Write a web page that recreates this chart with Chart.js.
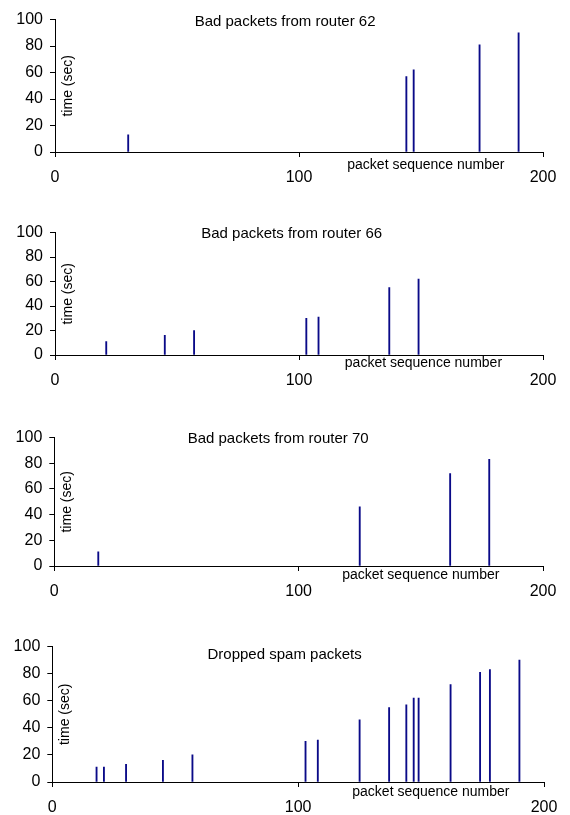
<!DOCTYPE html>
<html>
<head>
<meta charset="utf-8">
<script src="https://cdn.jsdelivr.net/npm/chart.js@4/dist/chart.umd.min.js"></script>
<style>
    html, body { margin: 0; padding: 0; background: #fff; overflow: hidden; }
    body { width: 570px; height: 815px; position: relative; }
    .panel { position: absolute; left: 0; width: 570px; }
</style>
</head>
<body>
<div class="panel" id="p0"><canvas id="c0"></canvas></div>
<div class="panel" id="p1"><canvas id="c1"></canvas></div>
<div class="panel" id="p2"><canvas id="c2"></canvas></div>
<div class="panel" id="p3"><canvas id="c3"></canvas></div>
<script>
// packet sequence numbers and times
const router62Seq = [30, 144, 147, 174, 190];
const router62Time = [13, 57, 62, 81, 90];

const router66Seq = [21, 45, 57, 103, 108, 137, 149];
const router66Time = [11, 16, 20, 30, 31, 55, 62];

const router70Seq = [18, 125, 162, 178];
const router70Time = [11, 46, 72, 83];

const spamSeq = [18, 21, 30, 45, 57, 103, 108, 125, 137, 144, 147, 149, 162, 174, 178, 190];
const spamTime = [11, 11, 13, 16, 20, 30, 31, 46, 55, 57, 62, 62, 72, 81, 83, 90];

const panelTitles = ['Bad packets from router 62', 'Bad packets from router 66',
    'Bad packets from router 70', 'Dropped spam packets'];
const xTicks = [0, 100, 200];
const yTicks = [0, 20, 40, 60, 80, 100];
const xTitle = 'packet sequence number';
const yTitle = 'time (sec)';

// plot boxes in page pixels: left, right, top, bottom
const boxes = [
    { l: 55, r: 543, t: 15, b: 152 },
    { l: 55, r: 543, t: 228.3, b: 355.3 },
    { l: 54.3, r: 543, t: 433.3, b: 566.7 },
    { l: 52.3, r: 544, t: 642.3, b: 782.3 }
];
// where the titles sit (in axis units) and the x title offset below the axis
const titlePos = [{ x: 94.3, y: 98.6 }, { x: 97, y: 99.3 }, { x: 91.6, y: 99 }, { x: 94.5, y: 93.6 }];
const xTitlePos = [{ x: 152, dy: 13 }, { x: 151, dy: 8 }, { x: 150, dy: 9 }, { x: 154, dy: 10.5 }];

const seqs = [router62Seq, router66Seq, router70Seq, spamSeq];
const times = [router62Time, router66Time, router70Time, spamTime];

const FONT = '"Liberation Sans", Arial, sans-serif';
const PAD_TOP = 12;
const X_AXIS_H = 40;

function makeChart(i) {
    const box = boxes[i];
    const holder = document.getElementById('p' + i);
    const height = (box.b - box.t) + PAD_TOP + X_AXIS_H;
    holder.style.top = (box.t - PAD_TOP) + 'px';
    holder.style.height = height + 'px';

    const canvas = document.getElementById('c' + i);
    canvas.width = 570;
    canvas.height = Math.round(height);

    const points = seqs[i].map((s, k) => ({ x: s, y: times[i][k] }));

    const labelsPlugin = {
        id: 'panelLabels' + i,
        afterDraw(chart) {
            const ctx = chart.ctx;
            const xs = chart.scales.x;
            const ys = chart.scales.y;
            ctx.save();
            ctx.fillStyle = '#000';
            ctx.textAlign = 'center';
            ctx.textBaseline = 'middle';

            ctx.font = '15px ' + FONT;
            ctx.fillText(panelTitles[i], xs.getPixelForValue(titlePos[i].x), ys.getPixelForValue(titlePos[i].y));

            ctx.font = '14px ' + FONT;
            ctx.fillText(xTitle, xs.getPixelForValue(xTitlePos[i].x), ys.getPixelForValue(0) + xTitlePos[i].dy);

            ctx.translate(xs.left + 13, (ys.top + ys.bottom) / 2);
            ctx.rotate(-Math.PI / 2);
            ctx.fillText(yTitle, 0, 0);
            ctx.restore();
        }
    };

    return new Chart(canvas, {
        type: 'bar',
        data: {
            datasets: [{
                data: points,
                backgroundColor: '#0a0a88',
                borderWidth: 0,
                barThickness: 1.2,
                grouped: false
            }]
        },
        options: {
            responsive: false,
            animation: false,
            layout: { padding: { top: PAD_TOP, right: 570 - box.r, bottom: 0, left: 0 } },
            plugins: { legend: { display: false }, tooltip: { enabled: false }, title: { display: false } },
            scales: {
                x: {
                    type: 'linear',
                    min: 0,
                    max: 200,
                    offset: false,
                    afterBuildTicks: (scale) => { scale.ticks = xTicks.map(v => ({ value: v })); },
                    afterFit: (scale) => { scale.height = X_AXIS_H; },
                    grid: { display: true, offset: false, drawOnChartArea: false, drawTicks: true, tickLength: 5, color: '#000' },
                    border: { display: true, color: '#000', width: 1 },
                    ticks: { color: '#000', font: { family: FONT, size: 16 }, padding: 11, maxRotation: 0, autoSkip: false }
                },
                y: {
                    min: 0,
                    max: 100,
                    afterBuildTicks: (scale) => { scale.ticks = yTicks.map(v => ({ value: v })); },
                    afterFit: (scale) => { scale.width = box.l; },
                    grid: { display: true, offset: false, drawOnChartArea: false, drawTicks: true, tickLength: 5, color: '#000' },
                    border: { display: true, color: '#000', width: 1 },
                    ticks: { color: '#000', font: { family: FONT, size: 16 }, padding: 7, autoSkip: false }
                }
            }
        },
        plugins: [labelsPlugin]
    });
}

[0, 1, 2, 3].forEach(makeChart);
</script>
</body>
</html>
